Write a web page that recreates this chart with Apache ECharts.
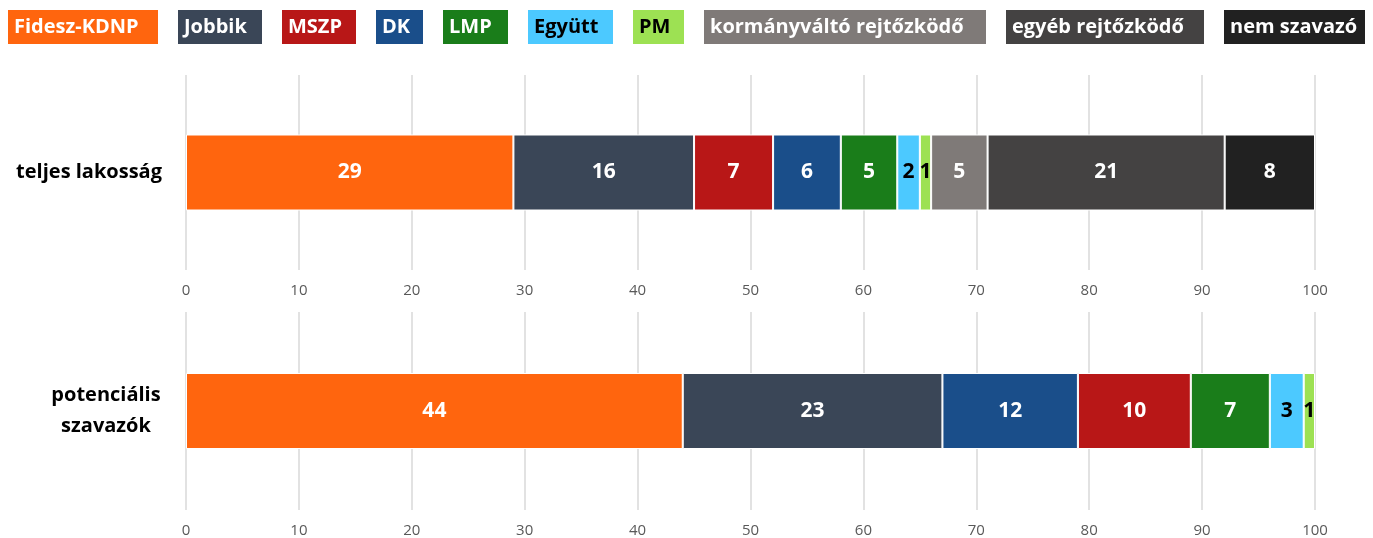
<!DOCTYPE html>
<html lang="hu">
<head>
    <meta charset="UTF-8">
    <title>Pártpreferencia</title>
    <script src="https://cdn.jsdelivr.net/npm/echarts@6/dist/echarts.min.js"></script>
    <style>
        html, body { margin: 0; padding: 0; background: #fff; }
        #chart { width: 1373px; height: 538px; }
    </style>
</head>
<body>
<div id="chart"></div>
<script>
    // adatok
    var groups = ['Fidesz-KDNP', 'Jobbik', 'MSZP', 'DK', 'LMP', 'Együtt', 'PM',
        'kormányváltó rejtőzködő', 'egyéb rejtőzködő', 'nem szavazó'];
    var rowTop = ['teljes lakosság'];
    var valuesTop = [29, 16, 7, 6, 5, 2, 1, 5, 21, 8];
    var rowBottom = ['potenciális\nszavazók'];
    var groupsBottom = ['Fidesz-KDNP', 'Jobbik', 'DK', 'MSZP', 'LMP', 'Együtt', 'PM'];
    var valuesBottom = [44, 23, 12, 10, 7, 3, 1];
    var ticks = [0, 10, 20, 30, 40, 50, 60, 70, 80, 90, 100];

    var colors = {
        'Fidesz-KDNP': '#ff650e',
        'Jobbik': '#3a4657',
        'MSZP': '#b81717',
        'DK': '#1a4e8a',
        'LMP': '#1a7d1a',
        'Együtt': '#4cc9ff',
        'PM': '#9de153',
        'kormányváltó rejtőzködő': '#7f7a78',
        'egyéb rejtőzködő': '#444242',
        'nem szavazó': '#212121'
    };
    var darkText = { 'Együtt': true, 'PM': true };
    var boxWidth = [150, 84, 74, 47, 65, 85, 51, 282, 198, 141];

    var font = '"Open Sans", "DejaVu Sans", sans-serif';
    var myChart = echarts.init(document.getElementById('chart'));

    // egy rich stílus minden jelmagyarázat-dobozhoz
    var legendRich = {};
    groups.forEach(function (n, i) {
        legendRich['r' + i] = {
            width: boxWidth[i] - 6,
            height: 34,
            padding: [0, 0, 0, 6],
            align: 'left',
            verticalAlign: 'middle',
            backgroundColor: colors[n],
            color: darkText[n] ? '#000000' : '#ffffff',
            fontFamily: font,
            fontWeight: 'bold',
            fontSize: 20
        };
    });

    function makeSeries(names, values, idx) {
        return names.map(function (n, i) {
            return {
                name: n,
                type: 'bar',
                stack: 'all' + idx,
                xAxisIndex: idx,
                yAxisIndex: idx,
                barWidth: 76,
                itemStyle: { color: colors[n], borderColor: '#ffffff', borderWidth: 1 },
                label: {
                    show: true,
                    position: 'inside',
                    fontFamily: font,
                    fontWeight: 'bold',
                    fontSize: 21,
                    color: darkText[n] ? '#000000' : '#ffffff'
                },
                data: [values[i]]
            };
        });
    }

    function xAxis(idx) {
        return {
            type: 'value',
            gridIndex: idx,
            min: 0,
            max: 100,
            interval: 10,
            axisLine: { show: false },
            axisTick: { show: false },
            splitLine: { lineStyle: { color: '#d9d9d9', width: 1.5 } },
            axisLabel: {
                margin: 13,
                color: '#595959',
                fontFamily: font,
                fontSize: 15,
                formatter: function (v) { return ticks.indexOf(v) >= 0 ? String(v) : ''; }
            }
        };
    }

    var option = {
        animation: false,
        legend: {
            left: -3,
            top: 5,
            width: 1380,
            itemWidth: 0,
            itemHeight: 0,
            itemGap: 14,
            selectedMode: false,
            icon: 'rect',
            data: groups,
            formatter: function (n) {
                return '{r' + groups.indexOf(n) + '|' + n + '}';
            },
            textStyle: { rich: legendRich }
        },
        grid: [
            { left: 186, right: 58, top: 75, bottom: 268 },
            { left: 186, right: 58, top: 312, bottom: 28 }
        ],
        xAxis: [xAxis(0), xAxis(1)],
        yAxis: [
            {
                type: 'category',
                gridIndex: 0,
                data: rowTop,
                axisLine: { show: false },
                axisTick: { show: false },
                axisLabel: {
                    margin: 24,
                    color: '#000000',
                    fontFamily: font,
                    fontWeight: 'bold',
                    fontSize: 20
                }
            },
            {
                type: 'category',
                gridIndex: 1,
                data: rowBottom,
                axisLine: { show: false },
                axisTick: { show: false },
                axisLabel: {
                    margin: 80,
                    align: 'center',
                    lineHeight: 31,
                    color: '#000000',
                    fontFamily: font,
                    fontWeight: 'bold',
                    fontSize: 20
                }
            }
        ],
        series: makeSeries(groups, valuesTop, 0).concat(makeSeries(groupsBottom, valuesBottom, 1))
    };

    myChart.setOption(option);
</script>
</body>
</html>
